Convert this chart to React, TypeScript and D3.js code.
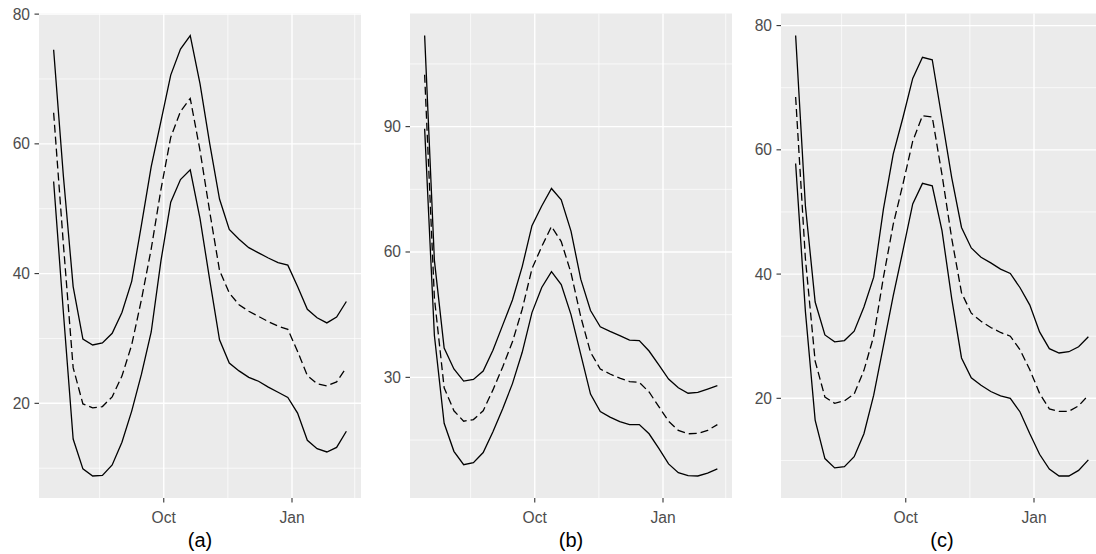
import { useEffect, useRef } from 'react';
import * as d3 from 'd3';

// weekly observations, mid-July to early February
const START = new Date(2019, 6, 14);
const weeks = d3.range(31).map(i => d3.timeDay.offset(START, 7 * i));

// panel (a)
const upperA = [74.5, 55, 38, 29.9, 29.0, 29.3, 30.8, 34.0, 38.8, 47.5, 56.5, 63.5, 70.6, 74.6, 76.7, 69.3, 60.0, 51.5, 46.8, 45.3, 44.0, 43.2, 42.4, 41.7, 41.3, 38.0, 34.5, 33.2, 32.4, 33.3, 35.7];
const midA = [64.8, 44.5, 25.5, 19.9, 19.3, 19.5, 21.0, 24.2, 29.0, 36.0, 43.8, 53.0, 61.0, 65.0, 67.0, 59.0, 49.5, 40.5, 37.0, 35.2, 34.2, 33.4, 32.6, 31.9, 31.4, 28.0, 24.3, 23.0, 22.7, 23.3, 25.5];
const lowerA = [54.2, 34, 14.5, 9.9, 8.8, 8.9, 10.5, 14.0, 18.8, 24.5, 31.0, 42.0, 51.0, 54.5, 56.0, 48.5, 39.0, 29.8, 26.2, 25.0, 24.0, 23.4, 22.5, 21.7, 20.9, 18.5, 14.3, 13.0, 12.5, 13.2, 15.7];

// panel (b)
const upperB = [111.8, 58, 37, 32, 29.1, 29.5, 31.5, 36.5, 42.5, 48.5, 56.5, 66.3, 71.0, 75.2, 72.5, 65.0, 53.5, 46.0, 42.1, 41.0, 40.0, 38.9, 38.8, 36.3, 33.0, 29.6, 27.5, 26.2, 26.4, 27.2, 28.0];
const midB = [102.4, 49, 27.5, 22, 19.5, 19.9, 22.0, 27.0, 32.5, 38.5, 46.3, 56.0, 61.3, 66.1, 62.5, 55.0, 44.5, 36.0, 32.0, 30.8, 29.8, 29.0, 28.8, 26.5, 23.0, 19.5, 17.3, 16.5, 16.6, 17.3, 18.7];
const lowerB = [89.5, 40, 19, 12.3, 9.1, 9.6, 12.0, 17.0, 22.5, 28.5, 36.0, 45.5, 51.5, 55.3, 52.2, 45.0, 35.5, 26.0, 21.8, 20.5, 19.4, 18.7, 18.7, 16.5, 13.0, 9.3, 7.2, 6.5, 6.4, 7.1, 8.1];

// panel (c)
const upperC = [78.4, 51, 35.5, 30.2, 29.1, 29.3, 30.8, 34.7, 39.5, 50.5, 59.3, 65.2, 71.5, 74.9, 74.5, 65.0, 55.5, 47.5, 44.2, 42.7, 41.8, 40.8, 40.1, 37.8, 35.0, 30.7, 28.0, 27.3, 27.5, 28.3, 29.9];
const midC = [68.5, 42.5, 26, 20.2, 19.2, 19.6, 20.7, 24.5, 30.0, 39.5, 48.0, 54.5, 61.4, 65.5, 65.3, 56.0, 45.7, 37.0, 33.7, 32.4, 31.4, 30.6, 30.0, 27.8, 24.6, 20.8, 18.3, 17.9, 17.9, 18.8, 20.5];
const lowerC = [57.8, 34, 16.5, 10.3, 8.8, 9.0, 10.6, 14.3, 20.5, 28.5, 36.5, 43.8, 51.3, 54.6, 54.2, 47.0, 36.0, 26.5, 23.3, 22.1, 21.1, 20.4, 20.0, 17.8, 14.3, 11.0, 8.6, 7.5, 7.5, 8.4, 10.1];

// axes
const monthBreaks = [new Date(2019, 9, 1), new Date(2020, 0, 1)];
const monthLabels = ['Oct', 'Jan'];
const monthMinor = [new Date(2019, 7, 16), new Date(2019, 10, 16), new Date(2020, 1, 15)];

const yBreaksA = [20, 40, 60, 80];
const yMinorA = [10, 30, 50, 70];
const yBreaksB = [30, 60, 90];
const yMinorB = [15, 45, 75, 105];
const yBreaksC = [20, 40, 60, 80];
const yMinorC = [10, 30, 50, 70];

const W = 1096;
const H = 554;
const TOP = 13.5;
const BOTTOM = 498;
const PW = 322;
const FONT = '"Liberation Sans", Arial, sans-serif';

interface PanelCfg {
  left: number;
  title: string;
  upper: number[];
  mid: number[];
  lower: number[];
  yBreaks: number[];
  yMinor: number[];
}

const panels: PanelCfg[] = [
  { left: 39, title: '(a)', upper: upperA, mid: midA, lower: lowerA, yBreaks: yBreaksA, yMinor: yMinorA },
  { left: 410, title: '(b)', upper: upperB, mid: midB, lower: lowerB, yBreaks: yBreaksB, yMinor: yMinorB },
  { left: 781, title: '(c)', upper: upperC, mid: midC, lower: lowerC, yBreaks: yBreaksC, yMinor: yMinorC },
];

export default function App() {
  const svgRef = useRef<SVGSVGElement>(null);

  useEffect(() => {
    if (!svgRef.current) return;
    const svg = d3.select(svgRef.current);
    svg.selectAll('*').remove();

    svg.append('rect').attr('width', W).attr('height', H).attr('fill', '#fff');

    // ggplot-style 5% expansion on dates
    const first = +weeks[0];
    const last = +weeks[weeks.length - 1];
    const pad = (last - first) * 0.05;

    panels.forEach(p => {
      const g = svg.append('g');
      const right = p.left + PW;

      const x = d3.scaleTime()
        .domain([new Date(first - pad), new Date(last + pad)])
        .range([p.left, right]);

      const all = [...p.upper, ...p.mid, ...p.lower];
      const lo = d3.min(all) as number;
      const hi = d3.max(all) as number;
      const r = hi - lo;
      const y = d3.scaleLinear()
        .domain([lo - r * 0.05, hi + r * 0.05])
        .range([BOTTOM, TOP]);

      g.append('rect')
        .attr('x', p.left)
        .attr('y', TOP)
        .attr('width', PW)
        .attr('height', BOTTOM - TOP)
        .attr('fill', '#ebebeb');

      // minor grid
      g.selectAll('.hmin').data(p.yMinor).enter().append('line')
        .attr('x1', p.left).attr('x2', right)
        .attr('y1', d => y(d)).attr('y2', d => y(d))
        .attr('stroke', '#fff').attr('stroke-width', 0.7);
      g.selectAll('.vmin').data(monthMinor).enter().append('line')
        .attr('x1', d => x(d)).attr('x2', d => x(d))
        .attr('y1', TOP).attr('y2', BOTTOM)
        .attr('stroke', '#fff').attr('stroke-width', 0.7);

      // major grid
      g.selectAll('.hmaj').data(p.yBreaks).enter().append('line')
        .attr('x1', p.left).attr('x2', right)
        .attr('y1', d => y(d)).attr('y2', d => y(d))
        .attr('stroke', '#fff').attr('stroke-width', 1.4);
      g.selectAll('.vmaj').data(monthBreaks).enter().append('line')
        .attr('x1', d => x(d)).attr('x2', d => x(d))
        .attr('y1', TOP).attr('y2', BOTTOM)
        .attr('stroke', '#fff').attr('stroke-width', 1.4);

      const line = d3.line<number>()
        .x((_, i) => x(weeks[i]))
        .y(d => y(d));

      [p.upper, p.lower].forEach(s => {
        g.append('path')
          .attr('d', line(s))
          .attr('fill', 'none')
          .attr('stroke', '#000')
          .attr('stroke-width', 1.3);
      });
      g.append('path')
        .attr('d', line(p.mid))
        .attr('fill', 'none')
        .attr('stroke', '#000')
        .attr('stroke-width', 1.3)
        .attr('stroke-dasharray', '8,4');

      // y axis
      p.yBreaks.forEach(v => {
        g.append('line')
          .attr('x1', p.left - 4.5).attr('x2', p.left)
          .attr('y1', y(v)).attr('y2', y(v))
          .attr('stroke', '#333').attr('stroke-width', 1.1);
        g.append('text')
          .attr('x', p.left - 9)
          .attr('y', y(v))
          .attr('dy', '0.35em')
          .attr('text-anchor', 'end')
          .attr('font-family', FONT)
          .attr('font-size', 15.6)
          .attr('fill', '#4d4d4d')
          .text(v);
      });

      // x axis
      monthBreaks.forEach((d, i) => {
        g.append('line')
          .attr('x1', x(d)).attr('x2', x(d))
          .attr('y1', BOTTOM).attr('y2', BOTTOM + 4.5)
          .attr('stroke', '#333').attr('stroke-width', 1.1);
        g.append('text')
          .attr('x', x(d))
          .attr('y', 523)
          .attr('text-anchor', 'middle')
          .attr('font-family', FONT)
          .attr('font-size', 15.6)
          .attr('fill', '#4d4d4d')
          .text(monthLabels[i]);
      });

      g.append('text')
        .attr('x', p.left + PW / 2)
        .attr('y', 547)
        .attr('text-anchor', 'middle')
        .attr('font-family', FONT)
        .attr('font-size', 20)
        .attr('fill', '#000')
        .text(p.title);
    });
  }, []);

  return (
    <svg
      ref={svgRef}
      width={W}
      height={H}
      style={{ position: 'absolute', left: 0, top: 0, display: 'block' }}
    />
  );
}
